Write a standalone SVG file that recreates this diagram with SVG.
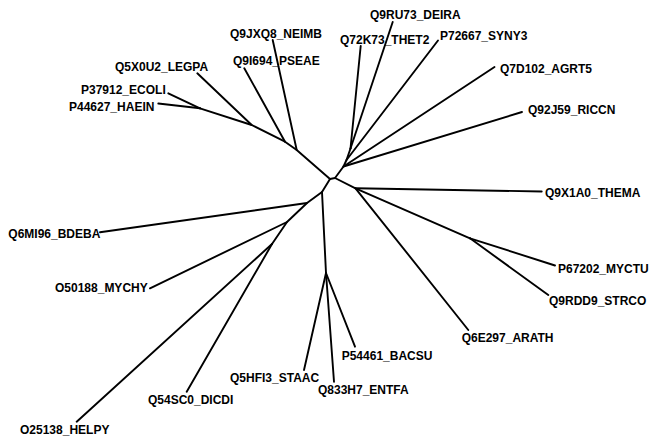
<svg xmlns="http://www.w3.org/2000/svg" width="649" height="438" viewBox="0 0 649 438">
<style>
.e{stroke:#000;stroke-width:1.9;fill:none;stroke-linecap:round;stroke-linejoin:round}
.t{font-family:"Liberation Sans",Arial,sans-serif;font-size:12px;font-weight:bold;fill:#000}
</style>
<rect width="649" height="438" fill="#fff"/>
<g id="connectors">
<polyline class="e" points="330,179 296.7,150 285,141.7 251.7,125 200,108.3"/>
<line class="e" x1="296.7" y1="150" x2="272.7" y2="40"/>
<line class="e" x1="285" y1="141.7" x2="244.3" y2="68.3"/>
<line class="e" x1="251.7" y1="125" x2="197.3" y2="73.3"/>
<line class="e" x1="200" y1="108.3" x2="168.3" y2="93.3"/>
<line class="e" x1="200" y1="108.3" x2="158.3" y2="103.5"/>
<polyline class="e" points="330,179 335,178 343.5,166.5 346.5,160 350.5,148.5"/>
<line class="e" x1="343.5" y1="166.5" x2="522" y2="112"/>
<line class="e" x1="343.5" y1="166.5" x2="494.5" y2="67"/>
<line class="e" x1="346.5" y1="160" x2="438" y2="40.5"/>
<line class="e" x1="350.5" y1="148.5" x2="360.7" y2="46"/>
<line class="e" x1="350.5" y1="148.5" x2="392.7" y2="22"/>
<polyline class="e" points="335,178 355.5,188.3 470,238.3"/>
<line class="e" x1="355.5" y1="188.3" x2="541.7" y2="191.5"/>
<line class="e" x1="355.5" y1="188.3" x2="468.3" y2="330"/>
<line class="e" x1="470" y1="238.3" x2="555" y2="265.5"/>
<line class="e" x1="470" y1="238.3" x2="548.3" y2="295"/>
<polyline class="e" points="330,179 322,192 307,203 287,222 272,244"/>
<line class="e" x1="307" y1="203" x2="100" y2="232.3"/>
<line class="e" x1="287" y1="222" x2="150" y2="288.3"/>
<line class="e" x1="272" y1="244" x2="76.7" y2="421.7"/>
<line class="e" x1="272" y1="244" x2="186.7" y2="391.7"/>
<line class="e" x1="322" y1="192" x2="326" y2="273"/>
<line class="e" x1="326" y1="273" x2="304" y2="370"/>
<line class="e" x1="326" y1="273" x2="334" y2="381.7"/>
<line class="e" x1="326" y1="273" x2="355" y2="346.7"/>
</g>
<g id="n_NEIMB"><text class="t" x="230" y="38">Q9JXQ8_NEIMB</text></g>
<g id="n_PSEAE"><text class="t" x="233" y="65">Q9I694_PSEAE</text></g>
<g id="n_LEGPA"><text class="t" x="115" y="71">Q5X0U2_LEGPA</text></g>
<g id="n_ECOLI"><text class="t" x="81" y="94">P37912_ECOLI</text></g>
<g id="n_HAEIN"><text class="t" x="69" y="111">P44627_HAEIN</text></g>
<g id="n_DEIRA"><text class="t" x="370" y="19">Q9RU73_DEIRA</text></g>
<g id="n_THET2"><text class="t" x="340" y="44">Q72K73_THET2</text></g>
<g id="n_SYNY3"><text class="t" x="440" y="40">P72667_SYNY3</text></g>
<g id="n_AGRT5"><text class="t" x="500" y="72.5">Q7D102_AGRT5</text></g>
<g id="n_RICCN"><text class="t" x="528" y="114">Q92J59_RICCN</text></g>
<g id="n_THEMA"><text class="t" x="545" y="197">Q9X1A0_THEMA</text></g>
<g id="n_MYCTU"><text class="t" x="558" y="273">P67202_MYCTU</text></g>
<g id="n_STRCO"><text class="t" x="549" y="305">Q9RDD9_STRCO</text></g>
<g id="n_ARATH"><text class="t" x="461.7" y="342">Q6E297_ARATH</text></g>
<g id="n_BACSU"><text class="t" x="341.7" y="360">P54461_BACSU</text></g>
<g id="n_ENTFA"><text class="t" x="318" y="393.5">Q833H7_ENTFA</text></g>
<g id="n_STAAC"><text class="t" x="230" y="381.5">Q5HFI3_STAAC</text></g>
<g id="n_DICDI"><text class="t" x="148" y="403.5">Q54SC0_DICDI</text></g>
<g id="n_HELPY"><text class="t" x="20" y="434">O25138_HELPY</text></g>
<g id="n_MYCHY"><text class="t" x="55" y="291.5">O50188_MYCHY</text></g>
<g id="n_BDEBA"><text class="t" x="8.3" y="237.5">Q6MI96_BDEBA</text></g>
</svg>
